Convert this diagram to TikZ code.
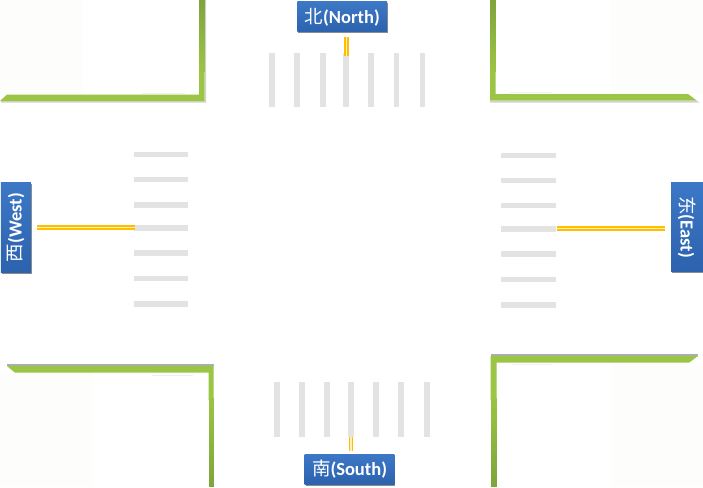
\documentclass[tikz,border=0pt]{standalone}
\usepackage{fontspec}
\setmainfont{Carlito}
\newfontfamily\cjk{Noto Sans CJK SC}
\usetikzlibrary{shadows}
\definecolor{grass}{HTML}{9BC544}
\definecolor{grassdark}{HTML}{7FA53C}
\definecolor{stripe}{HTML}{E3E3E3}
\definecolor{signal}{HTML}{FFBE00}
\definecolor{signalmid}{HTML}{FFF0B8}
\definecolor{boxtop}{HTML}{3C78C6}
\definecolor{boxbot}{HTML}{2C62AE}
\definecolor{tint}{HTML}{FDFEFC}
\newcommand{\zh}[1]{{\cjk\mdseries #1}}
% vertical kerb arm: x from #1 to #2, y from #3 (dark end) to #4 (light end)
\newcommand{\kerbarm}[4]{%
  \foreach \k in {0,...,19}{%
    \pgfmathsetmacro{\ya}{#3+(#4-(#3))*\k/20}%
    \pgfmathsetmacro{\yb}{#3+(#4-(#3))*(\k+1.3)/20}%
    \pgfmathtruncatemacro{\pc}{\k*5}%
    \fill[grass!\pc!grassdark] (#1,\ya) rectangle (#2,\yb);
  }}
\tikzset{
  x=1pt,y=-1pt,
  road label/.style={
    minimum width=89.6pt,minimum height=30pt,inner sep=0pt,
    top color=boxtop,bottom color=boxbot,draw=none,
    text=white,font=\fontsize{18.5}{18.5}\selectfont\bfseries,
    drop shadow={shadow xshift=0.8pt,shadow yshift=-1.2pt,opacity=.45,fill=black}},
  signal line/.style={draw=signal,line width=1.8pt,double=signalmid,double distance=1.1pt},
  stripe bar/.style={fill=stripe,draw=none},
  kerb/.style={fill=grass,draw=none},
  kerb shadow/.style={fill=black!32,draw=none},
  soft/.style={fill=black!6,draw=none},
}
\begin{document}
\begin{tikzpicture}
\useasboundingbox (0,0) rectangle (703,487);
\fill[white] (0,0) rectangle (703,487);
% faint tinted lots
\fill[tint] (0,0) rectangle (83,94);
\fill[tint] (0,373) rectangle (92,487);
\fill[tint] (612,363) rectangle (703,487);
\fill[tint] (611,0) rectangle (703,94);
% north-west kerb
\fill[black!18] (1,101) -- (205,101) -- (205,0) -- (206,0) -- (206,102.5) -- (1,102.5) -- cycle;
\fill[kerb] (7,94.5) -- (199,94.5) -- (199,70) -- (204.5,70) -- (204.5,101) -- (0,101) -- cycle;
\kerbarm{199}{204.5}{0}{71}
\fill[soft] (142,92.6) rectangle (185,93.6);
% north-east kerb
\fill[black!18] (490,101) -- (697,101) -- (699,102.5) -- (490,102.5) -- cycle;
\fill[kerb] (490,70) -- (495.7,70) -- (495.7,94) -- (688,94) -- (697,100.7) -- (490,100.7) -- cycle;
\kerbarm{490}{495.7}{0}{71}
\fill[soft] (510,91.8) rectangle (552,92.8);
% south-west kerb
\fill[kerb shadow] (7,364) rectangle (213.5,366);
\fill[kerb] (7,366) -- (213.5,366) -- (213.5,400) -- (208.5,400) -- (208.5,372.7) -- (15,372.7) -- cycle;
\kerbarm{208.5}{213.5}{487}{399}
\fill[soft] (152,374.5) rectangle (193,375.5);
% south-east kerb
\fill[kerb shadow] (490.7,354) rectangle (698,356);
\fill[kerb] (490.7,356) -- (698,356) -- (689,362.7) -- (496.7,362.7) -- (496.7,400) -- (490.7,400) -- cycle;
\kerbarm{490.7}{496.7}{487}{399}
\fill[soft] (512,364.3) rectangle (552,365.3);
% north crossing
\foreach \a in {269,294.3,320,343.3,368.3,393.7,419.7}
  \fill[stripe bar] (\a,52.7) rectangle ++(5.6,54.6);
% south crossing
\foreach \a in {274,299,324.3,348,373,398.3,424.3}
  \fill[stripe bar] (\a,382.3) rectangle ++(5.6,54.4);
% west crossing
\foreach \b in {151.6,176.7,202,225,250.3,275.7,301}
  \fill[stripe bar] (134,\b) rectangle ++(54.3,5.6);
% east crossing
\foreach \b in {152.6,177.7,202.7,226,251.3,276.7,302}
  \fill[stripe bar] (501,\b) rectangle ++(54.7,5.6);
% labels
\node[road label] (north) at (342.2,17) {\zh{北}(North)};
\node[road label] (south) at (349.5,469.3) {\zh{南}(South)};
\node[road label,rotate=90] (west) at (15.9,227.5) {\zh{西}(West)};
\node[road label,rotate=-90,minimum height=32pt] (east) at (687,227) {\zh{东}(East)};
% signal stubs
\coordinate (nA) at (346.35,37);   \coordinate (nB) at (346.35,56);
\coordinate (sA) at (351,437.3);   \coordinate (sB) at (351,450.7);
\coordinate (wA) at (37.3,227.15); \coordinate (wB) at (135,227.15);
\coordinate (eA) at (556.7,228.5); \coordinate (eB) at (665,228.5);
\draw[signal line] (nA) -- (nB);
\draw[signal line] (sA) -- (sB);
\draw[signal line] (wA) -- (wB);
\draw[signal line] (eA) -- (eB);
\end{tikzpicture}
\end{document}
